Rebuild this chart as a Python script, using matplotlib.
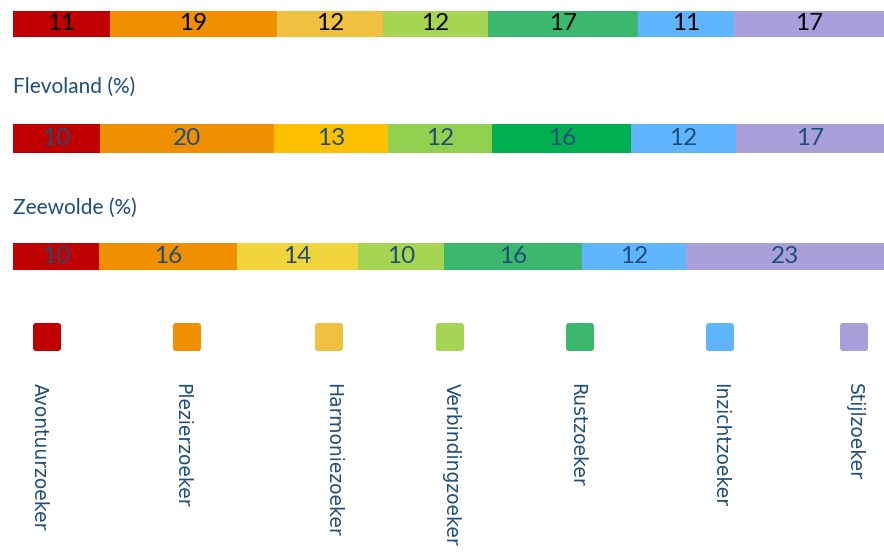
import matplotlib
matplotlib.use("Agg")
import matplotlib.pyplot as plt
from matplotlib.patches import FancyBboxPatch

# ---- data ----
categories = ["Avontuurzoeker", "Plezierzoeker", "Harmoniezoeker", "Verbindingzoeker",
              "Rustzoeker", "Inzichtzoeker", "Stijlzoeker"]
nederland = [11, 19, 12, 12, 17, 11, 17]
flevoland = [10, 20, 13, 12, 16, 12, 17]
zeewolde = [10, 16, 14, 10, 16, 12, 23]
titles = [None, "Flevoland (%)", "Zeewolde (%)"]

# ---- styles ----
colors_main = ["#C00000", "#F09000", "#F0C040", "#A5D552", "#3CB86E", "#5FB5FF", "#A99FDA"]
colors_flevo = ["#C00000", "#F09000", "#FFC000", "#92D050", "#00B050", "#5FB5FF", "#A99FDA"]
colors_zee = ["#C00000", "#F09000", "#F2D43D", "#A5D552", "#3CB86E", "#5FB5FF", "#A99FDA"]
label_colors = ["black", "#1F4E79", "#1F4E79"]
navy = "#1F4E79"

W, H = 884, 553
fig = plt.figure(figsize=(W / 100, H / 100), dpi=100)

# bar layout in pixels: (top, bottom)
bar_rows = [(11, 37), (124, 153), (243, 270)]
title_y = [None, 87, 208]
x0, x1 = 13, 884

series = [nederland, flevoland, zeewolde]
palettes = [colors_main, colors_flevo, colors_zee]

for vals, pal, (top, bot), lc in zip(series, palettes, bar_rows, label_colors):
    ax = fig.add_axes([x0 / W, 1 - bot / H, (x1 - x0) / W, (bot - top) / H])
    left = 0
    for v, c in zip(vals, pal):
        cont = ax.barh(0, v, left=left, height=1.0, color=c, edgecolor="none")
        ax.bar_label(cont, labels=[str(v)], label_type="center", color=lc,
                     fontsize=17.5, family="Lato")
        left += v
    ax.set_xlim(0, sum(vals))
    ax.set_ylim(-0.5, 0.5)
    ax.axis("off")

# overlay axes in pixel coords
ov = fig.add_axes([0, 0, 1, 1])
ov.set_xlim(0, W)
ov.set_ylim(H, 0)
ov.axis("off")

for t, ty in zip(titles, title_y):
    if t:
        ov.text(x0, ty, t, color=navy, fontsize=15, family="Lato", ha="left", va="center")

# legend
sq_left = [33, 173, 315, 436, 566, 706, 840]
text_cx = [39, 182, 333, 451, 577, 720, 854]
sq_top, sq_size, r = 323, 28, 3
for cat, c, sl, tx in zip(categories, colors_main, sq_left, text_cx):
    p = FancyBboxPatch((sl + r, sq_top + r), sq_size - 2 * r, sq_size - 2 * r,
                       boxstyle=f"round,pad={r}", facecolor=c, edgecolor="none")
    ov.add_patch(p)
    ov.text(tx, 383, cat, rotation=270, ha="center", va="top", color=navy,
            fontsize=13.5, family="DejaVu Sans")

fig.savefig("out.png", dpi=100)
